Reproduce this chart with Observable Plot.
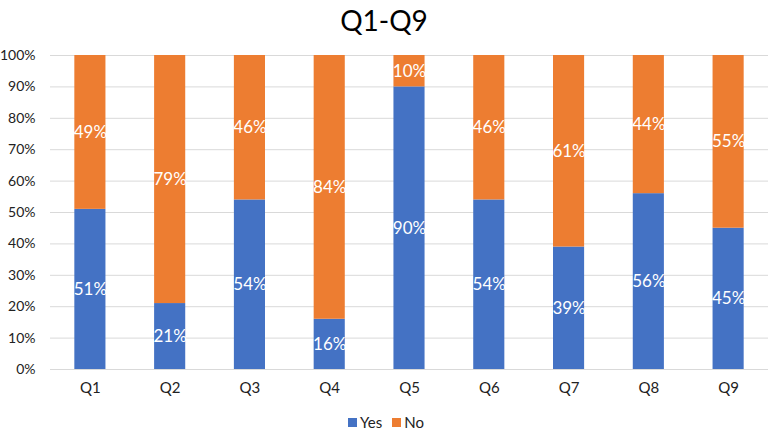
<!DOCTYPE html>
<html>
<head>
<meta charset="utf-8">
<script src="https://cdn.jsdelivr.net/npm/d3@7"></script>
<script src="https://cdn.jsdelivr.net/npm/@observablehq/plot@0.6"></script>
<style>
  html, body { margin: 0; padding: 0; background: #fff; }
  body { width: 768px; height: 432px; overflow: hidden; font-family: Lato, "Open Sans", sans-serif; }
  #title { height: 40px; line-height: 40px; text-align: center; font-size: 28px; color: #000; }
  #legend { height: 30px; display: flex; justify-content: center; align-items: center; gap: 10px; font-size: 15px; line-height: 16px; color: #222; padding-left: 4px; padding-top: 10px; box-sizing: border-box; }
  .item { display: flex; align-items: center; gap: 3px; }
  .sw { width: 9px; height: 9px; display: inline-block; }
</style>
</head>
<body>
<div id="title">Q1-Q9</div>
<div id="chart"></div>
<div id="legend"></div>
<script>
const questions = ["Q1","Q2","Q3","Q4","Q5","Q6","Q7","Q8","Q9"];
const yesValues = [51, 21, 54, 16, 90, 54, 39, 56, 45];
const noValues  = [49, 79, 46, 84, 10, 46, 61, 44, 55];
const series = ["Yes", "No"];
const colors = ["#4472C4", "#ED7D31"];
const yTicks = [0, 0.1, 0.2, 0.3, 0.4, 0.5, 0.6, 0.7, 0.8, 0.9, 1];

const data = [];
questions.forEach((q, i) => {
  data.push({q, answer: "Yes", value: yesValues[i] / 100});
  data.push({q, answer: "No", value: noValues[i] / 100});
});

const plot = Plot.plot({
  width: 768,
  height: 362,
  marginTop: 15,
  marginBottom: 33,
  marginLeft: 50,
  marginRight: 0,
  style: {fontFamily: "Lato, 'Open Sans', sans-serif", fontSize: "14px", color: "#222", background: "#fff", overflow: "visible"},
  x: {domain: questions, paddingInner: 0.61, paddingOuter: 0.305, round: false, label: null},
  y: {domain: [0, 1], label: null},
  color: {domain: series, range: colors},
  marks: [
    Plot.ruleY(yTicks, {stroke: "#d9d9d9", strokeWidth: 1}),
    Plot.barY(data, Plot.stackY({x: "q", y: "value", fill: "answer"})),
    Plot.text(data, Plot.stackY({x: "q", y: "value", text: d => Math.round(d.value * 100) + "%", fill: "#fff", fontSize: 17})),
    Plot.axisX({tickSize: 0, tickPadding: 13, fontSize: 15}),
    Plot.axisY({ticks: yTicks, tickFormat: d3.format(".0%"), tickSize: 0, tickPadding: 15, fontSize: 14})
  ]
});
document.getElementById("chart").appendChild(plot);

const legend = document.getElementById("legend");
series.forEach((s, i) => {
  const item = document.createElement("span");
  item.className = "item";
  const sw = document.createElement("span");
  sw.className = "sw";
  sw.style.background = colors[i];
  const label = document.createElement("span");
  label.textContent = s;
  item.appendChild(sw);
  item.appendChild(label);
  legend.appendChild(item);
});
</script>
</body>
</html>
